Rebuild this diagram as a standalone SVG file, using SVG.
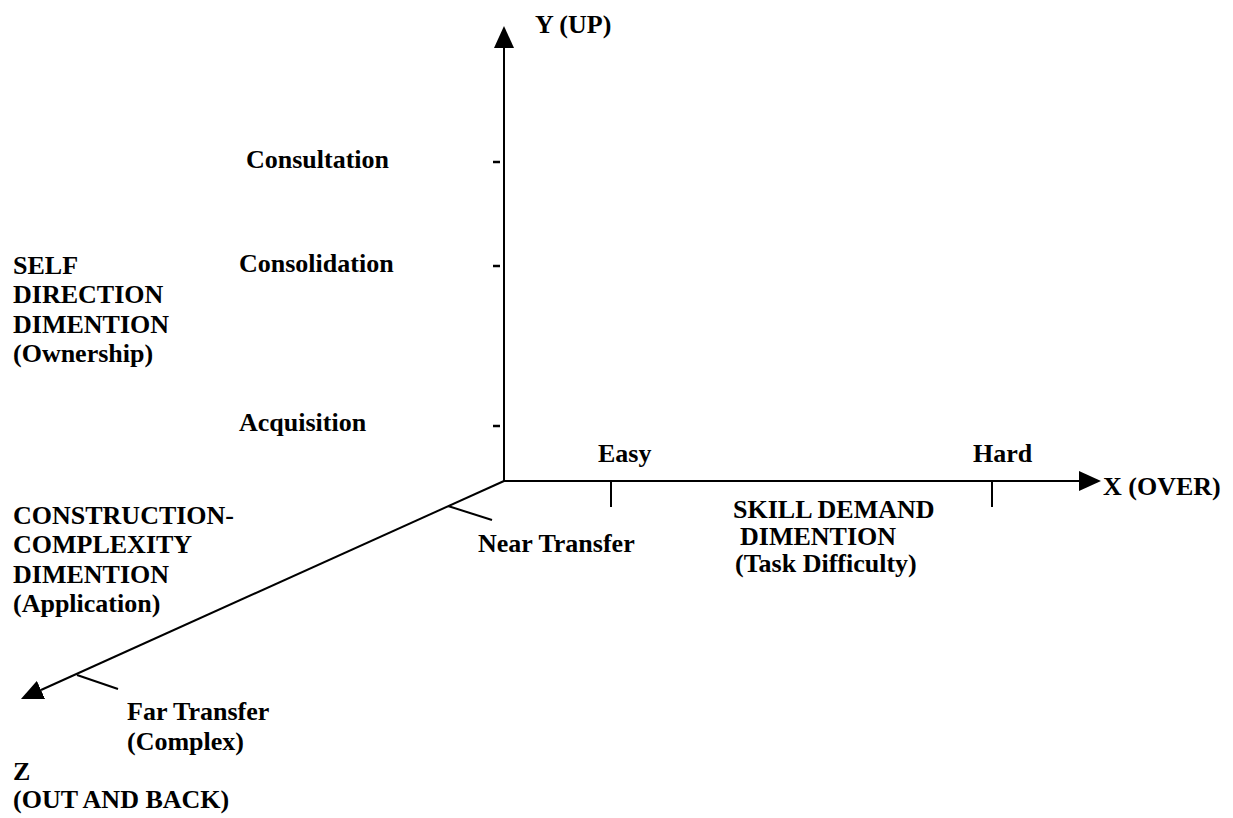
<svg xmlns="http://www.w3.org/2000/svg" width="1233" height="818" viewBox="0 0 1233 818">
<style>
text{font-family:"Liberation Serif","Times New Roman",serif;font-weight:bold;font-size:26px;fill:#000}
.ax{stroke:#000;stroke-width:2;fill:none}
.tk{stroke:#000;stroke-width:2;fill:none}
.dash{stroke:#000;stroke-width:2.5;fill:none}
</style>
<defs>
<marker id="ah" markerWidth="22" markerHeight="20" refX="0" refY="10" orient="auto" markerUnits="userSpaceOnUse">
<path d="M0,0 L22,10 L0,20 Z" fill="#000"/>
</marker>
</defs>
<rect width="1233" height="818" fill="#fff"/>
<g id="connectors">
<line class="ax" x1="504" y1="482" x2="504" y2="48" marker-end="url(#ah)"/>
<line class="ax" x1="503" y1="481" x2="1079" y2="481" marker-end="url(#ah)"/>
<line class="ax" x1="504" y1="481" x2="41" y2="690" marker-end="url(#ah)"/>
<line class="dash" x1="493" y1="162" x2="500" y2="162"/>
<line class="dash" x1="493" y1="266" x2="500" y2="266"/>
<line class="dash" x1="493" y1="426" x2="500" y2="426"/>
<line class="tk" x1="611" y1="481" x2="611" y2="507"/>
<line class="tk" x1="992" y1="481" x2="992" y2="507"/>
<line class="tk" x1="448" y1="506" x2="492" y2="520"/>
<line class="tk" x1="77" y1="675" x2="118" y2="689"/>
</g>
<g id="y-axis-label"><text x="535" y="33">Y (UP)</text></g>
<g id="x-axis-label"><text x="1103" y="495">X (OVER)</text></g>
<g id="z-axis-label"><text x="13" y="780">Z</text><text x="13" y="808">(OUT AND BACK)</text></g>
<g id="consultation"><text x="246" y="168">Consultation</text></g>
<g id="consolidation"><text x="239" y="272">Consolidation</text></g>
<g id="acquisition"><text x="239" y="431">Acquisition</text></g>
<g id="self-direction"><text x="13" y="274">SELF</text><text x="13" y="303">DIRECTION</text><text x="13" y="333">DIMENTION</text><text x="13" y="362">(Ownership)</text></g>
<g id="construction"><text x="13" y="524">CONSTRUCTION-</text><text x="13" y="553">COMPLEXITY</text><text x="13" y="583">DIMENTION</text><text x="13" y="612">(Application)</text></g>
<g id="easy"><text x="598" y="462">Easy</text></g>
<g id="hard"><text x="973" y="462">Hard</text></g>
<g id="near-transfer"><text x="478" y="552">Near Transfer</text></g>
<g id="skill-demand"><text x="733" y="518">SKILL DEMAND</text><text x="740" y="545">DIMENTION</text><text x="735" y="572">(Task Difficulty)</text></g>
<g id="far-transfer"><text x="127" y="720">Far Transfer</text><text x="127" y="750">(Complex)</text></g>
</svg>
